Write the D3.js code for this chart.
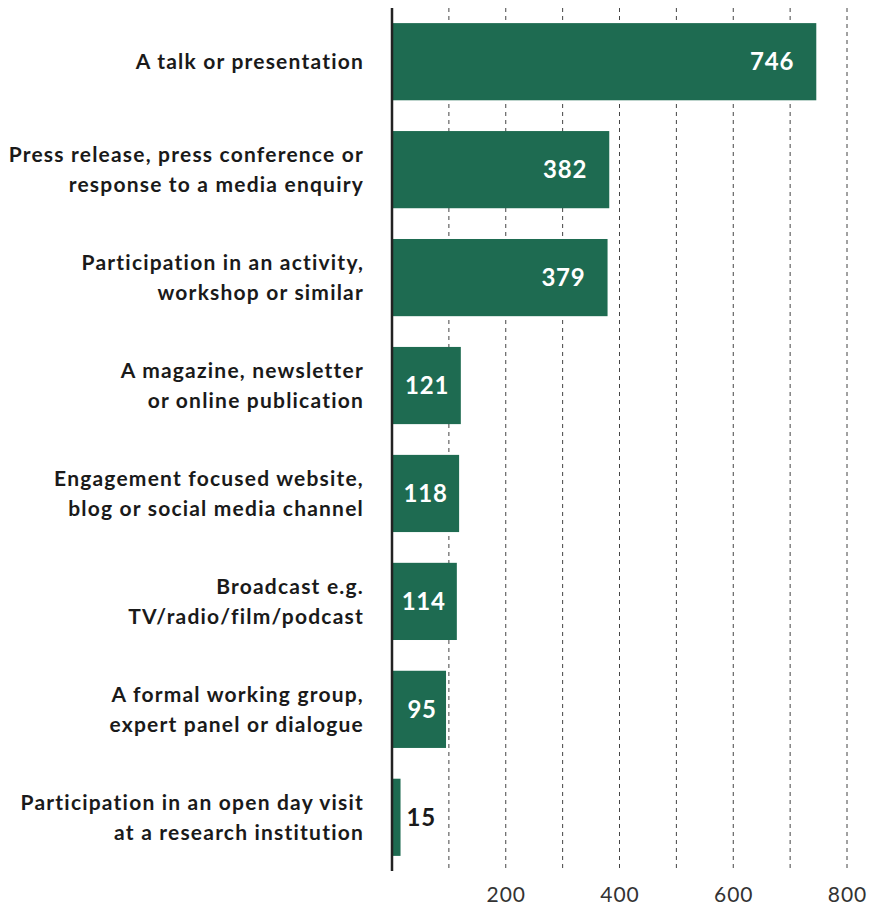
<!DOCTYPE html>
<html>
<head>
<meta charset="utf-8">
<script src="https://cdn.jsdelivr.net/npm/d3@7"></script>
<style>
  html, body { margin: 0; padding: 0; background: #fff; }
  svg { display: block; }
</style>
</head>
<body>
<script>
// Engagement activity types and their counts
const categories = [
  ["A talk or presentation"],
  ["Press release, press conference or", "response to a media enquiry"],
  ["Participation in an activity,", "workshop or similar"],
  ["A magazine, newsletter", "or online publication"],
  ["Engagement focused website,", "blog or social media channel"],
  ["Broadcast e.g.", "TV/radio/film/podcast"],
  ["A formal working group,", "expert panel or dialogue"],
  ["Participation in an open day visit", "at a research institution"]
];
const values = [746, 382, 379, 121, 118, 114, 95, 15];
const tickValues = [200, 400, 600, 800];
const gridValues = [100, 200, 300, 400, 500, 600, 700, 800];

const W = 871, H = 905;
const plot = { left: 392, right: 847, top: 8, bottom: 871 };
const barColor = "#1e6b51";
const textColor = "#1a1a1a";
const font = "Lato, 'Open Sans', sans-serif";

const svg = d3.select("body").append("svg")
  .attr("width", W).attr("height", H);

const x = d3.scaleLinear().domain([0, 800]).range([plot.left, plot.right]);
const y = d3.scaleBand()
  .domain(d3.range(values.length))
  .range([plot.top, plot.bottom])
  .paddingInner(0.285)
  .paddingOuter(0.14);

// dashed vertical gridlines
svg.append("g").selectAll("line")
  .data(gridValues)
  .join("line")
  .attr("x1", d => x(d)).attr("x2", d => x(d))
  .attr("y1", plot.top).attr("y2", plot.bottom)
  .attr("stroke", "#444")
  .attr("stroke-width", 1)
  .attr("stroke-dasharray", "4,4");

// bars
svg.append("g").selectAll("rect")
  .data(values)
  .join("rect")
  .attr("x", x(0))
  .attr("y", (d, i) => y(i))
  .attr("width", d => x(d) - x(0))
  .attr("height", y.bandwidth())
  .attr("fill", barColor);

// zero axis line
svg.append("line")
  .attr("x1", x(0)).attr("x2", x(0))
  .attr("y1", plot.top).attr("y2", plot.bottom)
  .attr("stroke", "#222")
  .attr("stroke-width", 2.5);

// value labels: inside the bar when wide enough, otherwise just past its end
svg.append("g").selectAll("text")
  .data(values)
  .join("text")
  .each(function (d, i) {
    const w = x(d) - x(0);
    const inside = w > 40;
    const pad = Math.min(22, w * 0.17);
    d3.select(this)
      .attr("x", inside ? x(d) - pad : x(d) + 6)
      .attr("y", y(i) + y.bandwidth() / 2)
      .attr("dy", "0.36em")
      .attr("text-anchor", inside ? "end" : "start")
      .attr("fill", inside ? "#fff" : textColor)
      .text(d);
  })
  .attr("font-family", font)
  .attr("font-weight", 700)
  .attr("font-size", 24)
  .attr("letter-spacing", 0.8);

// category labels, right-aligned to the left of the axis
const lineH = 30;
const labels = svg.append("g").selectAll("text")
  .data(categories)
  .join("text")
  .attr("text-anchor", "end")
  .attr("font-family", font)
  .attr("font-weight", 700)
  .attr("font-size", 21)
  .attr("letter-spacing", 1.2)
  .attr("fill", textColor)
  .attr("transform", (d, i) => `translate(364,${y(i) + y.bandwidth() / 2})`);
labels.selectAll("tspan")
  .data(d => d.map((t, k) => ({ t, k, n: d.length })))
  .join("tspan")
  .attr("x", 0)
  .attr("y", d => (d.k - (d.n - 1) / 2) * lineH)
  .attr("dy", "0.36em")
  .text(d => d.t);

// bottom axis labels
const xAxis = d3.axisBottom(x).tickValues(tickValues).tickSize(0).tickPadding(16);
const ax = svg.append("g").attr("transform", `translate(0,${plot.bottom})`).call(xAxis);
ax.select(".domain").remove();
ax.selectAll("text")
  .attr("font-family", font)
  .attr("font-weight", 400)
  .attr("font-size", 21)
  .attr("letter-spacing", 1)
  .attr("fill", "#333");
</script>
</body>
</html>
